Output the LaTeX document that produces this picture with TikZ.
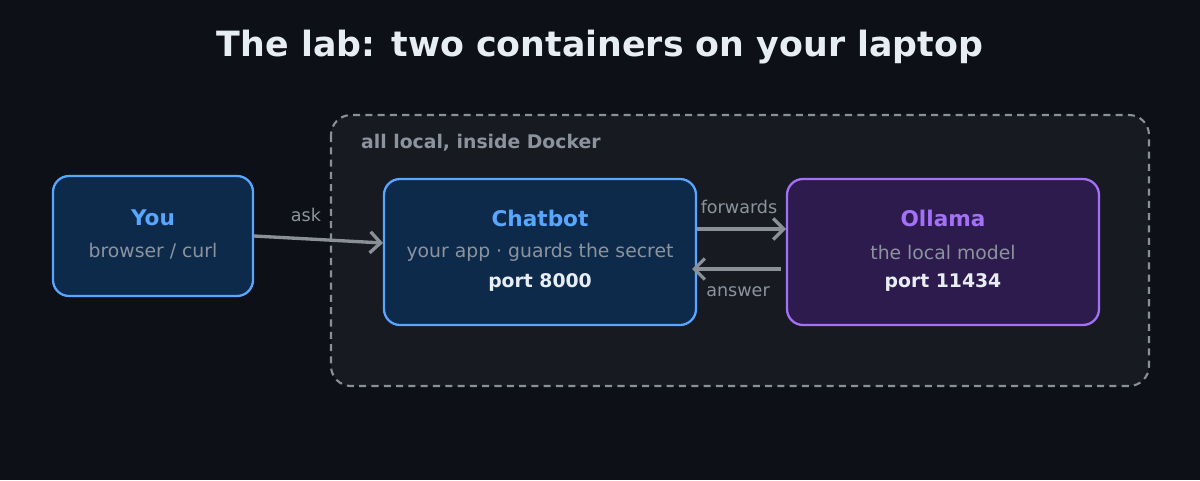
\documentclass[tikz,border=0pt]{standalone}
\usepackage{fontspec}
\setmainfont{DejaVu Sans}
\usetikzlibrary{arrows.meta}
\definecolor{bg}{HTML}{0D1117}
\definecolor{panel}{HTML}{171A21}
\definecolor{frame}{HTML}{8B8F97}
\definecolor{bluefill}{HTML}{0E2A4A}
\definecolor{blueline}{HTML}{58A6FF}
\definecolor{purfill}{HTML}{2D1B4E}
\definecolor{purline}{HTML}{A371F7}
\definecolor{subtxt}{HTML}{8B949E}
\definecolor{light}{HTML}{E6EDF3}
\tikzset{
  box/.style={draw, line width=1.3pt, rounded corners=0.32cm, inner sep=0pt},
  blue box/.style={box, fill=bluefill, draw=blueline},
  purple box/.style={box, fill=purfill, draw=purline},
  head/.style={font=\fontsize{12.3}{14}\selectfont\bfseries},
  sub/.style={font=\fontsize{10.7}{12}\selectfont, text=subtxt},
  port/.style={font=\fontsize{10.7}{12}\selectfont\bfseries, text=light},
  link/.style={-{Straight Barb[length=6pt,width=12pt]}, line width=1.9pt, draw=frame},
  tag/.style={font=\fontsize{10}{12}\selectfont, text=subtxt}
}
\begin{document}
\begin{tikzpicture}[x=0.02cm, y=-0.02cm]
\fill[bg] (0,0) rectangle (1200,480);
\useasboundingbox (0,0) rectangle (1200,480);

\node[font=\fontsize{19.8}{23}\selectfont\bfseries, text=light] (title) at (600,47) {The lab: two containers on your laptop};

% docker area
\draw[frame, fill=panel, line width=1.2pt, dash pattern=on 4pt off 3pt, rounded corners=0.4cm] (331,115) rectangle (1149,386);
\node[anchor=west, font=\fontsize{10.7}{12}\selectfont\bfseries, text=subtxt] (docker) at (355,143) {all local, inside Docker};

% boxes
\draw[blue box] (53,176) rectangle (253,296);
\node[head, text=blueline] (you-h) at (153,218) {You};
\node[sub] (you-s) at (153,251) {browser / curl};

\draw[blue box] (384,179) rectangle (696,325);
\node[head, text=blueline] (bot-h) at (540,218) {Chatbot};
\node[sub] (bot-s) at (540,252) {your app · guards the secret};
\node[port] (bot-p) at (540,282) {port 8000};

\draw[purple box] (787,179) rectangle (1099,325);
\node[head, text=purline] (oll-h) at (943,218) {Ollama};
\node[sub] (oll-s) at (943,252) {the local model};
\node[port] (oll-p) at (943,282) {port 11434};

% connectors
\coordinate (you-out) at (254,236);
\coordinate (bot-in) at (383,243);
\coordinate (bot-out) at (697,229);
\coordinate (oll-in) at (786,229);
\coordinate (oll-out) at (781,269);
\coordinate (bot-back) at (692,269);
\draw[link] (you-out) -- (bot-in);
\draw[link] (bot-out) -- (oll-in);
\draw[link] (oll-out) -- (bot-back);
\node[tag] (ask) at (306,215) {ask};
\node[tag] (fwd) at (739,207) {forwards};
\node[tag] (ans) at (738,292) {answer};
\end{tikzpicture}
\end{document}
